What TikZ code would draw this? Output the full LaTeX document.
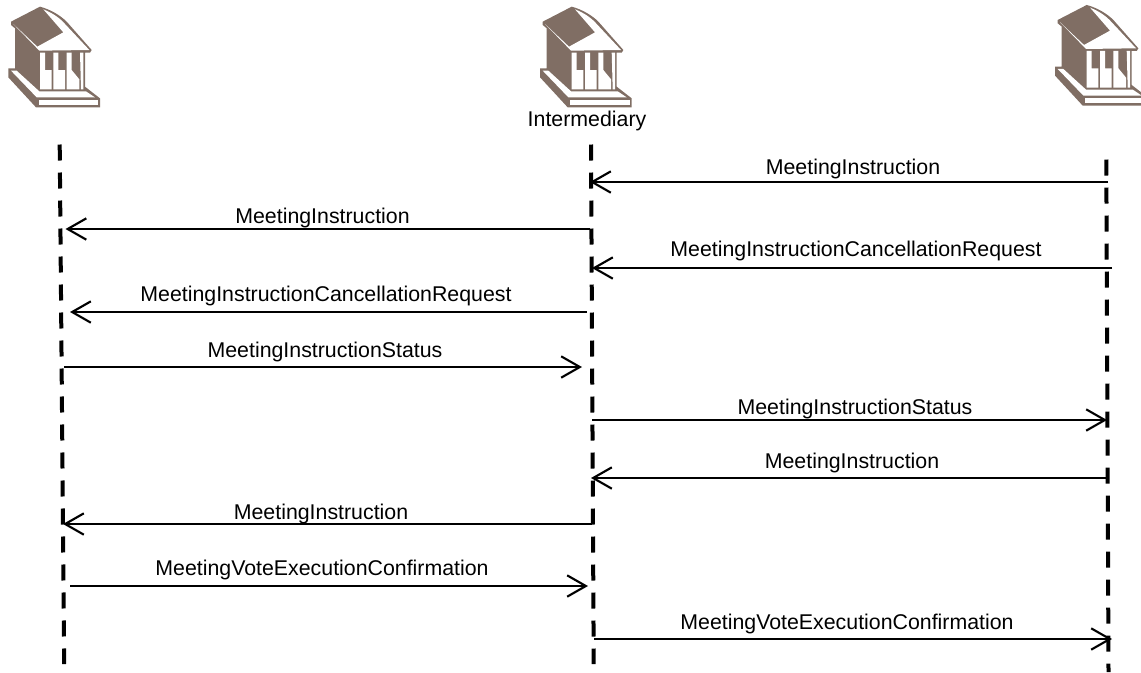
\documentclass[tikz,border=0pt]{standalone}
\usepackage{fontspec}
\setmainfont{Liberation Sans}
\usetikzlibrary{arrows.meta}
\definecolor{bank}{RGB}{128,110,100}
\tikzset{
  lifeline/.style={line width=3pt,black,dash pattern=on 12pt off 9pt},
  msg/.style={line width=1.6pt,black,-{Straight Barb[length=14pt,width=16pt,line width=1.6pt]}},
  lbl/.style={font=\fontsize{16pt}{18pt}\selectfont,inner sep=0pt,anchor=center},
  bankfill/.style={fill=bank,draw=none},
  bankhole/.style={fill=white,draw=none},
  pics/bank/.style={code={
    \begin{scope}[x=0.25pt,y=-0.25pt]
      \path[bankfill] (33,65) -- (120,20) .. controls (150,28) and (180,45) .. (200,65) -- (275,150) -- (270,158) -- (255,158) -- (255,260) -- (300,295) -- (300,322) -- (108,322) -- (25,232) -- (25,205) -- (45,205) -- (45,85) -- (33,75) -- cycle;
      \path[bankhole] (40,72) -- (112,140) -- (190,97) -- (130,28) .. controls (160,40) and (180,55) .. (195,72) -- (268,150) -- (118,152) -- cycle;
      \path[bankhole] (120,158) -- (135,158) -- (135,210) -- (155,210) -- (155,268) -- (120,268) -- cycle;
      \path[bankhole] (160,158) -- (175,158) -- (175,210) -- (195,210) -- (195,268) -- (160,268) -- cycle;
      \path[bankhole] (200,158) -- (215,158) -- (215,210) -- (238,238) -- (238,268) -- (200,268) -- cycle;
      \path[bankhole] (240,158) -- (250,158) -- (250,268) -- (243,268) -- cycle;
      \path[bankhole] (33,212) -- (50,212) -- (118,274) -- (258,274) -- (285,292) -- (110,292) -- cycle;
      \path[bankhole] (116,299) -- (295,299) -- (295,315) -- (116,315) -- cycle;
    \end{scope}
  }}
}
\begin{document}
\begin{tikzpicture}[x=0.75pt,y=-0.75pt]
\useasboundingbox (0,0) rectangle (1141,672);
\pic at (0,0) {bank};
\pic at (531.7,0) {bank};
\pic at (1046.7,-1.7) {bank};
\node[lbl] (inter) at (587,121) {Intermediary};
% lifelines
\coordinate (LT) at (59.7,144.5); \coordinate (LB) at (64.2,664);
\coordinate (MT) at (591,144.5); \coordinate (MB) at (593.7,664);
\coordinate (RT) at (1106.3,159.5); \coordinate (RB) at (1108.5,672);
\draw[lifeline] (LT) -- (LB);
\draw[lifeline] (MT) -- (MB);
\draw[lifeline] (RT) -- (RB);
% message ends
\coordinate (a1) at (1108,182); \coordinate (b1) at (590,182);
\coordinate (a2) at (590,229);  \coordinate (b2) at (65.5,229);
\coordinate (a3) at (1112,268); \coordinate (b3) at (592,268);
\coordinate (a4) at (587,312);  \coordinate (b4) at (70,312);
\coordinate (a5) at (64,367);   \coordinate (b5) at (582,367);
\coordinate (a6) at (592,420);  \coordinate (b6) at (1107,420);
\coordinate (a7) at (1108,478); \coordinate (b7) at (591,478);
\coordinate (a8) at (592,524);  \coordinate (b8) at (63,524);
\coordinate (a9) at (70,586);   \coordinate (b9) at (588,586);
\coordinate (a10) at (594,639); \coordinate (b10) at (1112,639);
\foreach \i in {1,...,10} \draw[msg] (a\i) -- (b\i);
% labels
\node[lbl] (t1) at (853,169) {MeetingInstruction};
\node[lbl] (t2) at (322.5,218) {MeetingInstruction};
\node[lbl] (t3) at (856,251) {MeetingInstructionCancellationRequest};
\node[lbl] (t4) at (326,296) {MeetingInstructionCancellationRequest};
\node[lbl] (t5) at (325,352) {MeetingInstructionStatus};
\node[lbl] (t6) at (855,409) {MeetingInstructionStatus};
\node[lbl] (t7) at (852,463) {MeetingInstruction};
\node[lbl] (t8) at (321,514) {MeetingInstruction};
\node[lbl] (t9) at (322,570) {MeetingVoteExecutionConfirmation};
\node[lbl] (t10) at (847,624) {MeetingVoteExecutionConfirmation};
\end{tikzpicture}
\end{document}
